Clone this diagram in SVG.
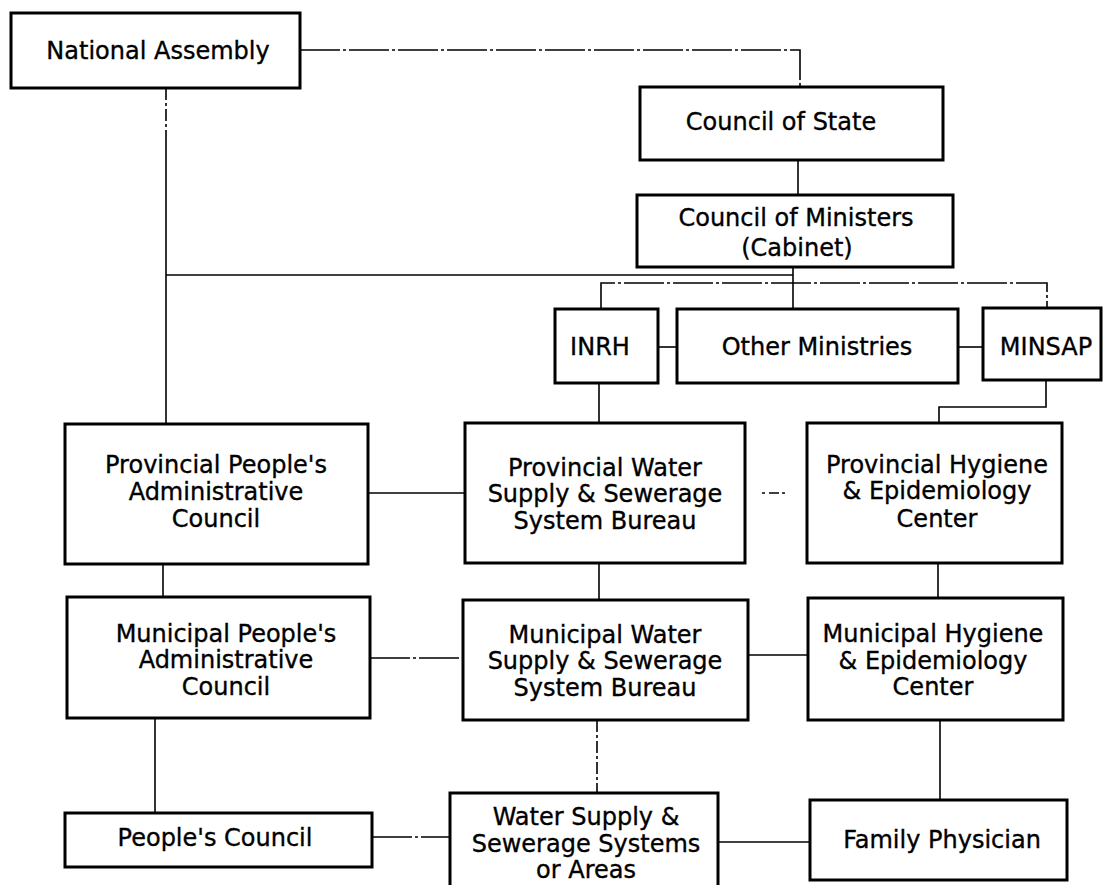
<svg xmlns="http://www.w3.org/2000/svg" width="1103" height="885" viewBox="0 0 1103 885">
<style>
.box{fill:#fff;stroke:#000;stroke-width:3}
.t{font-family:"DejaVu Sans",sans-serif;font-size:24px;fill:#000;stroke:#000;stroke-width:0.35;text-anchor:middle}
.c{fill:none;stroke:#000;stroke-width:1.6}
.dd{stroke-dasharray:40 3 3 3}
.dv{stroke-dasharray:12 3 3 3}
</style>
<rect width="1103" height="885" fill="#fff"/>
<g id="connectors">
<path class="c dd" d="M300 50 H800 V87"/>
<path class="c dv" d="M166 88 V140"/>
<path class="c" d="M166 140 V424"/>
<path class="c" d="M166 275 H793"/>
<path class="c" d="M798 160 V195"/>
<path class="c" d="M793 267 V308"/>
<path class="c dd" d="M601 309 V283 H1047 V308"/>
<path class="c" d="M658 347 H677"/>
<path class="c" d="M958 347 H983"/>
<path class="c" d="M599 383 V423"/>
<path class="c" d="M1046 380 V407 H939 V423"/>
<path class="c" d="M368 493 H465"/>
<line class="c" x1="745" y1="493" x2="807" y2="493" stroke-dasharray="0 17 3 4 10 3 3 100"/>
<path class="c" d="M163 564 V597"/>
<path class="c" d="M599 563 V600"/>
<path class="c" d="M938 563 V598"/>
<path class="c dd" d="M370 658 H463"/>
<path class="c" d="M748 655 H808"/>
<path class="c" d="M155 718 V813"/>
<path class="c dv" d="M597 720 V793"/>
<path class="c" d="M940 720 V800"/>
<path class="c dd" d="M372 837 H450"/>
<path class="c" d="M718 842 H810"/>
</g>
<g id="national-assembly"><rect class="box" x="11" y="13" width="289" height="75"/><text class="t" x="158" y="59">National Assembly</text></g>
<g id="council-of-state"><rect class="box" x="640" y="87" width="303" height="73"/><text class="t" x="781" y="130">Council of State</text></g>
<g id="council-of-ministers"><rect class="box" x="637" y="195" width="316" height="72"/><text class="t" x="796" y="226">Council of Ministers</text><text class="t" x="797" y="256">(Cabinet)</text></g>
<g id="inrh"><rect class="box" x="555" y="309" width="103" height="74"/><text class="t" x="600" y="355">INRH</text></g>
<g id="other-ministries"><rect class="box" x="677" y="309" width="281" height="74"/><text class="t" x="817" y="355">Other Ministries</text></g>
<g id="minsap"><rect class="box" x="983" y="308" width="118" height="72"/><text class="t" x="1046" y="355">MINSAP</text></g>
<g id="provincial-peoples"><rect class="box" x="65" y="424" width="303" height="140"/><text class="t" x="216" y="473">Provincial People's</text><text class="t" x="216" y="500">Administrative</text><text class="t" x="216" y="527">Council</text></g>
<g id="provincial-water"><rect class="box" x="465" y="423" width="280" height="140"/><text class="t" x="605" y="476">Provincial Water</text><text class="t" x="605" y="502">Supply &amp; Sewerage</text><text class="t" x="605" y="529">System Bureau</text></g>
<g id="provincial-hygiene"><rect class="box" x="807" y="423" width="255" height="140"/><text class="t" x="937" y="473">Provincial Hygiene</text><text class="t" x="937" y="499">&amp; Epidemiology</text><text class="t" x="937" y="527">Center</text></g>
<g id="municipal-peoples"><rect class="box" x="67" y="597" width="303" height="121"/><text class="t" x="226" y="642">Municipal People's</text><text class="t" x="226" y="668">Administrative</text><text class="t" x="226" y="695">Council</text></g>
<g id="municipal-water"><rect class="box" x="463" y="600" width="285" height="120"/><text class="t" x="605" y="643">Municipal Water</text><text class="t" x="605" y="669">Supply &amp; Sewerage</text><text class="t" x="605" y="696">System Bureau</text></g>
<g id="municipal-hygiene"><rect class="box" x="808" y="598" width="255" height="122"/><text class="t" x="933" y="642">Municipal Hygiene</text><text class="t" x="933" y="669">&amp; Epidemiology</text><text class="t" x="933" y="695">Center</text></g>
<g id="peoples-council"><rect class="box" x="65" y="813" width="307" height="54"/><text class="t" x="215" y="846">People's Council</text></g>
<g id="water-supply-areas"><rect class="box" x="450" y="793" width="268" height="100"/><text class="t" x="586" y="825">Water Supply &amp;</text><text class="t" x="586" y="852">Sewerage Systems</text><text class="t" x="586" y="878">or Areas</text></g>
<g id="family-physician"><rect class="box" x="810" y="800" width="257" height="80"/><text class="t" x="942" y="848">Family Physician</text></g>
</svg>
